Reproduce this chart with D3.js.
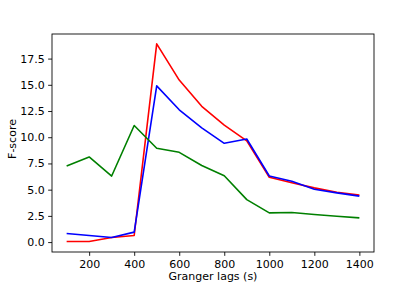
<!DOCTYPE html>
<html>
<head>
<meta charset="utf-8">
<script src="https://cdn.jsdelivr.net/npm/d3@7"></script>
<style>
  body { margin: 0; background: #fff; }
  svg text { font-family: "DejaVu Sans", sans-serif; fill: #000; }
</style>
</head>
<body>
<div id="chart"></div>
<script>
// Granger lags (s)
const lags = [100, 200, 300, 400, 500, 600, 700, 800, 900, 1000, 1100, 1200, 1300, 1400];
const redScores = [0.05, 0.05, 0.44, 0.63, 18.9, 15.45, 12.95, 11.15, 9.65, 6.18, 5.65, 5.17, 4.76, 4.48];
const blueScores = [0.82, 0.63, 0.44, 0.95, 14.9, 12.62, 10.9, 9.42, 9.83, 6.3, 5.8, 5.04, 4.69, 4.38];
const greenScores = [7.26, 8.12, 6.3, 11.12, 8.95, 8.56, 7.3, 6.32, 4.05, 2.79, 2.82, 2.63, 2.47, 2.31];
const xTicks = [200, 400, 600, 800, 1000, 1200, 1400];
const yTicks = [0, 2.5, 5, 7.5, 10, 12.5, 15, 17.5];

const W = 416, H = 289;
const margin = {top: 34, right: 42, bottom: 37, left: 52},
    width = W - margin.left - margin.right,
    height = H - margin.top - margin.bottom;

const svg = d3.select("#chart")
    .append("svg")
    .attr("width", W)
    .attr("height", H)
    .append("g")
    .attr("transform", `translate(${margin.left}, ${margin.top})`);

// matplotlib style 5% margins
const xPad = (1400 - 100) * 0.05;
const yPad = 18.9 * 0.05;
const x = d3.scaleLinear()
    .domain([100 - xPad, 1400 + xPad])
    .range([0, width]);
const y = d3.scaleLinear()
    .domain([0 - yPad, 18.9 + yPad])
    .range([height, 0]);

const xAxis = svg.append("g")
    .attr("transform", `translate(0, ${height})`)
    .call(d3.axisBottom(x).tickValues(xTicks).tickSize(3.85).tickPadding(3.85).tickFormat(d3.format("d")));
const yAxis = svg.append("g")
    .call(d3.axisLeft(y).tickValues(yTicks).tickSize(3.85).tickPadding(3.5).tickFormat(d3.format(".1f")));

[xAxis, yAxis].forEach(a => {
    a.select(".domain").remove();
    a.selectAll("line").attr("stroke", "#000").attr("stroke-width", 0.88);
    a.selectAll("text").style("font-size", "11px").style("font-family", "DejaVu Sans, sans-serif");
});

// frame
svg.append("rect")
    .attr("x", 0)
    .attr("y", 0)
    .attr("width", width)
    .attr("height", height)
    .attr("fill", "none")
    .attr("stroke", "#000")
    .attr("stroke-width", 0.88);

const line = d3.line()
    .x(d => x(d[0]))
    .y(d => y(d[1]));

const series = [
    {values: redScores, color: "#ff0000"},
    {values: blueScores, color: "#0000ff"},
    {values: greenScores, color: "#008000"}
];

series.forEach(s => {
    svg.append("path")
        .datum(lags.map((l, i) => [l, s.values[i]]))
        .attr("fill", "none")
        .attr("stroke", s.color)
        .attr("stroke-width", 1.6)
        .attr("stroke-linejoin", "round")
        .attr("d", line);
});

// axis titles
svg.append("text")
    .attr("x", width / 2)
    .attr("y", height + 28)
    .attr("text-anchor", "middle")
    .style("font-size", "11px")
    .text("Granger lags (s)");

svg.append("text")
    .attr("transform", "rotate(-90)")
    .attr("x", -105)
    .attr("y", -36.5)
    .attr("text-anchor", "middle")
    .style("font-size", "11px")
    .text("F-score");
</script>
</body>
</html>
